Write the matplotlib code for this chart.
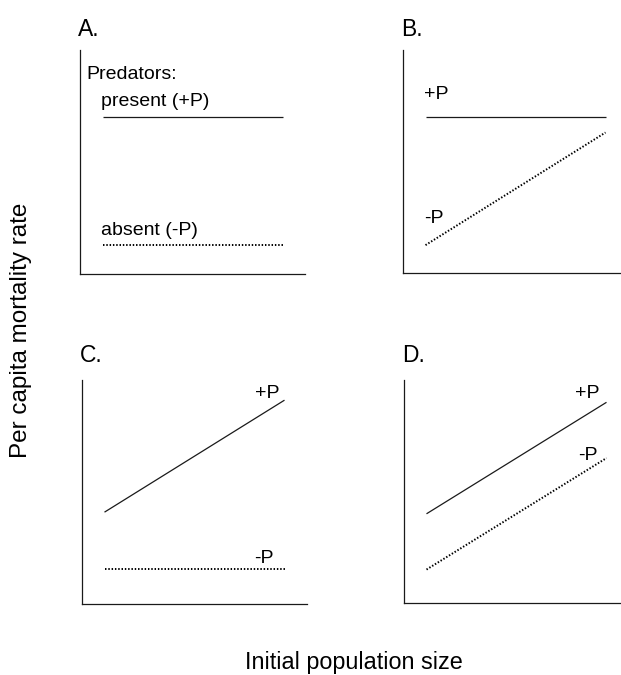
import matplotlib
matplotlib.use("Agg")
import matplotlib.pyplot as plt

plt.rcParams['font.family'] = ['Liberation Sans', 'DejaVu Sans']

W, H = 621, 675
x_pts = [1.0, 9.0]
panels = ["A.", "B.", "C.", "D."]
plus_p = {"A.": [7.0, 7.0], "B.": [7.0, 7.0], "C.": [4.1, 9.1], "D.": [4.0, 9.0]}
minus_p = {"A.": [1.3, 1.3], "B.": [1.25, 6.3], "C.": [1.55, 1.55], "D.": [1.5, 6.5]}

# axes boxes in pixels: left, top, right, bottom
boxes = {"A.": (80, 50, 305, 274), "B.": (403, 50, 628, 273),
         "C.": (82, 380, 307, 604), "D.": (404, 380, 629, 603)}

fig = plt.figure(figsize=(W / 100, H / 100), dpi=100)
col = "#1a1a1a"
axes = {}
for p in panels:
    l, t, r, b = boxes[p]
    ax = fig.add_axes([l / W, 1 - b / H, (r - l) / W, (b - t) / H])
    ax.set_xlim(0, 10)
    ax.set_ylim(0, 10)
    ax.spines['top'].set_visible(False)
    ax.spines['right'].set_visible(False)
    for s in ('left', 'bottom'):
        ax.spines[s].set_linewidth(0.9)
        ax.spines[s].set_color(col)
    ax.set_xticks([])
    ax.set_yticks([])
    ax.plot(x_pts, plus_p[p], color=col, lw=0.9, solid_capstyle='butt')
    ax.plot(x_pts, minus_p[p], color="#000000", lw=1.4, linestyle=(0, (0.75, 0.95)),
            dash_capstyle='butt')
    axes[p] = ax
    fig.text((l - 2) / W, 1 - 30 / H if p in ("A.", "B.") else 1 - 355 / H, p,
             fontsize=16.5, ha='left', va='center', color='black')

fs = 14
a = axes["A."]
a.text(0.3, 8.9, "Predators:", fontsize=fs, ha='left', va='center')
a.text(0.95, 7.7, "present (+P)", fontsize=fs, ha='left', va='center')
a.text(0.95, 1.95, "absent (-P)", fontsize=fs, ha='left', va='center')
b = axes["B."]
b.text(0.95, 8.0, "+P", fontsize=fs, ha='left', va='center')
b.text(0.95, 2.45, "-P", fontsize=fs, ha='left', va='center')
c = axes["C."]
c.text(8.8, 9.4, "+P", fontsize=fs, ha='right', va='center')
c.text(8.5, 2.05, "-P", fontsize=fs, ha='right', va='center')
d = axes["D."]
d.text(8.7, 9.4, "+P", fontsize=fs, ha='right', va='center')
d.text(8.6, 6.6, "-P", fontsize=fs, ha='right', va='center')

fig.text(21 / W, 1 - 330 / H, "Per capita mortality rate", rotation=90,
         fontsize=17.5, ha='center', va='center')
fig.text(354 / W, 1 - 662 / H, "Initial population size",
         fontsize=16.8, ha='center', va='center')

fig.savefig("out.png", dpi=100)
